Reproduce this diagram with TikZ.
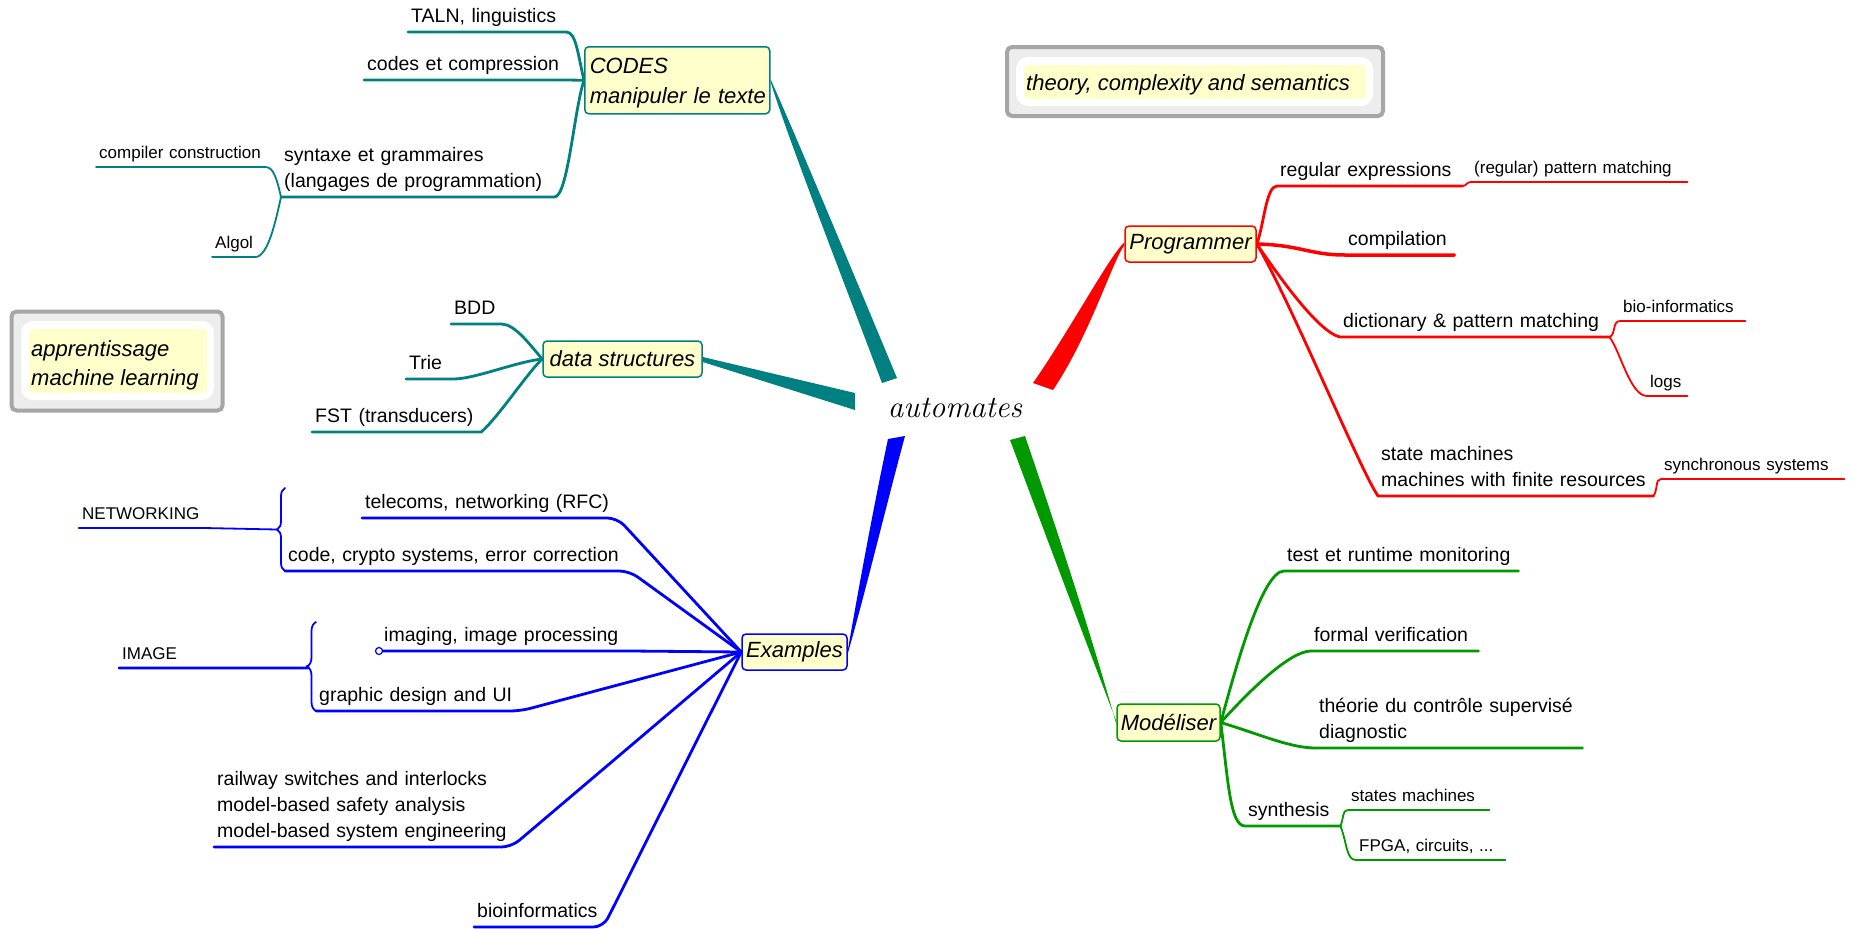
\documentclass[tikz,border=0pt]{standalone}
\usepackage{fontspec}
\setsansfont{Liberation Sans}
\renewcommand{\familydefault}{\sfdefault}
\usetikzlibrary{calc,decorations.pathreplacing,backgrounds}
\definecolor{tealc}{RGB}{0,128,128}
\definecolor{redc}{RGB}{255,0,0}
\definecolor{bluec}{RGB}{0,0,255}
\definecolor{greenc}{RGB}{0,153,0}
\definecolor{boxfill}{RGB}{255,255,204}
\definecolor{notegray}{RGB}{166,166,166}
\definecolor{notebg}{RGB}{237,237,237}
\begin{document}
\begin{tikzpicture}[x=1pt,y=-1pt,
  lvA/.style={anchor=south west, align=left, inner xsep=3pt, inner ysep=1.5pt, font=\fontsize{19.5}{26}\selectfont, execute at end node=\strut},
  lvB/.style={anchor=south west, align=left, inner xsep=3pt, inner ysep=1.5pt, font=\fontsize{17}{22}\selectfont, execute at end node=\strut},
  topic/.style={draw=#1, fill=boxfill, rounded corners=4pt, line width=1.5pt, font=\fontsize{22}{30}\selectfont\itshape, inner sep=0pt},
  brA/.style={draw=#1, line width=2.8pt, line cap=round, line join=round},
  brB/.style={draw=#1, line width=1.8pt, line cap=round, line join=round},
  noteouter/.style={draw=notegray, line width=4pt, fill=notebg, rounded corners=5pt, inner sep=0pt},
  notewhite/.style={fill=white, rounded corners=12pt, inner sep=0pt},
  noteyel/.style={fill=boxfill, rounded corners=3pt, inner sep=0pt},
  notetext/.style={anchor=west, align=left, inner sep=0pt, font=\fontsize{22}{29}\selectfont\itshape},
]
\useasboundingbox (0,0) rectangle (1853,929);

% centre
\node[font=\rmfamily\itshape\fontsize{31}{36}\selectfont, inner sep=0pt] (auto) at (955,408) {automates};

% topic boxes
\node[topic=tealc, anchor=north west, text width=175pt, inner xsep=5pt, minimum height=67pt, align=left] (codes) at (584,46) {\strut\mbox{CODES}\\\mbox{manipuler le texte}};
\node[topic=tealc, minimum width=159pt, minimum height=36pt] (ds) at (622.5,359) {data structures};
\node[topic=bluec, minimum width=105pt, minimum height=36pt] (ex) at (794.5,652) {Examples};
\node[topic=redc, minimum width=131pt, minimum height=36pt] (prog) at (1190.5,244) {Programmer};
\node[topic=greenc, minimum width=103pt, minimum height=37pt] (mod) at (1168.5,722.5) {Modéliser};

% notes
\node[noteouter, minimum width=211pt, minimum height=99pt] (apnote) at (117,361) {};
\node[notewhite, minimum width=193pt, minimum height=79pt] (apwhite) at (117.5,360.5) {};
\node[noteyel, minimum width=178pt, minimum height=64pt] (apyel) at (118,361) {};
\node[notetext] (aptext) at (31,365) {apprentissage\\machine learning};

\node[noteouter, minimum width=376pt, minimum height=69pt] (thnote) at (1195,81.5) {};
\node[notewhite, minimum width=357pt, minimum height=49pt] (thwhite) at (1194.5,81.5) {};
\node[noteyel, minimum width=342pt, minimum height=34pt] (thyel) at (1195,82) {};
\node[notetext] (thtext) at (1026,84.5) {theory, complexity and semantics};

% teal children
\node[lvA, text width=152pt] (taln) at (408,32) {\mbox{TALN, linguistics}};
\node[lvA, text width=194pt] (cec) at (364,80) {\mbox{codes et compression}};
\node[lvA, text width=267pt] (syn) at (281,197) {\mbox{syntaxe et grammaires}\\\mbox{(langages de programmation)}};
\node[lvB, text width=163pt] (cc) at (96,167) {\mbox{compiler construction}};
\node[lvB, text width=37pt] (algol) at (212,257) {\mbox{Algol}};
\node[lvA, text width=44pt] (bdd) at (451,324) {\mbox{BDD}};
\node[lvA, text width=41pt] (trie) at (406,379) {\mbox{Trie}};
\node[lvA, text width=163pt] (fst) at (312,432) {\mbox{FST (transducers)}};

% blue children
\node[lvA, text width=249pt] (tel) at (362,518) {\mbox{telecoms, networking (RFC)}};
\node[lvA, text width=338pt] (code) at (285,571) {\mbox{code, crypto systems, error correction}};
\node[lvA, text width=241pt, inner xsep=5pt] (img) at (379,651) {\mbox{imaging, image processing}};
\node[lvA, text width=198pt] (gd) at (316,711) {\mbox{graphic design and UI}};
\node[lvA, text width=291pt] (rail) at (214,847) {\mbox{railway switches and interlocks}\\\mbox{model-based safety analysis}\\\mbox{model-based system engineering}};
\node[lvA, text width=123pt] (bio) at (474,927) {\mbox{bioinformatics}};
\node[lvB, text width=119pt] (net) at (79,528) {\mbox{NETWORKING}};
\node[lvB, text width=182pt] (image) at (119,668) {\mbox{IMAGE}};

% red children
\node[lvA, text width=179pt] (re) at (1277,186) {\mbox{regular expressions}};
\node[lvB, text width=210pt] (pm) at (1471,182) {\mbox{(regular) pattern matching}};
\node[lvA, text width=103pt] (comp) at (1345,255) {\mbox{compilation}};
\node[lvA, text width=263pt] (dict) at (1340,337) {\mbox{dictionary \& pattern matching}};
\node[lvB, text width=119pt] (bioi) at (1620,321) {\mbox{bio-informatics}};
\node[lvB, text width=34pt] (logs) at (1647,396) {\mbox{logs}};
\node[lvA, text width=269pt] (sm) at (1378,496) {\mbox{state machines}\\\mbox{machines with finite resources}};
\node[lvB, text width=177pt] (sync) at (1661,479) {\mbox{synchronous systems}};

% green children
\node[lvA, text width=228pt] (test) at (1284,571) {\mbox{test et runtime monitoring}};
\node[lvA, text width=161pt] (fv) at (1311,651) {\mbox{formal verification}};
\node[lvA, text width=260pt] (th) at (1316,748) {\mbox{théorie du contrôle supervisé}\\\mbox{diagnostic}};
\node[lvA, text width=89pt] (synth) at (1245,826) {\mbox{synthesis}};
\node[lvB, text width=135pt] (stm) at (1348,810) {\mbox{states machines}};
\node[lvB, text width=143pt] (fpga) at (1356,860) {\mbox{FPGA, circuits, ...}};

\begin{pgfonlayer}{background}
\fill[white] (0,0) rectangle (1853,929);
% wedges from the centre
\coordinate (wC1) at (897,378); \coordinate (wC2) at (882,383);
\fill[tealc] ($(codes.east)+(0,-1.2)$) .. controls (790,122) and (850,265) .. (wC1) -- (wC2) .. controls (840,272) and (785,130) .. ($(codes.east)+(0,1.2)$) -- cycle;
\coordinate (wD1) at (855,393); \coordinate (wD2) at (855,410);
\fill[tealc] ($(ds.east)+(0,-2)$) -- (wD1) -- (wD2) -- ($(ds.east)+(0,3)$) -- cycle;
\coordinate (wP1) at (1033,383); \coordinate (wP2) at (1053,390);
\fill[redc] ($(prog.west)+(0,-1.5)$) .. controls (1110,255) and (1070,330) .. (wP1) -- (wP2) .. controls (1090,335) and (1112,262) .. ($(prog.west)+(0,1.5)$) -- cycle;
\coordinate (wE1) at (888,439); \coordinate (wE2) at (905,436);
\fill[bluec] ($(ex.east)+(0,-1.5)$) .. controls (860,580) and (875,500) .. (wE1) -- (wE2) .. controls (885,510) and (866,590) .. ($(ex.east)+(0,1.5)$) -- cycle;
\coordinate (wM1) at (1010,440); \coordinate (wM2) at (1025,436);
\fill[greenc] ($(mod.west)+(0,-1.5)$) .. controls (1085,640) and (1040,520) .. (wM1) -- (wM2) .. controls (1052,515) and (1090,630) .. ($(mod.west)+(0,1.5)$) -- cycle;

% teal connectors
\draw[brA=tealc] (codes.west) .. controls (578,55) and (576,32) .. (taln.south east) -- (taln.south west);
\draw[brA=tealc] (codes.west) -- (cec.south east) -- (cec.south west);
\draw[brA=tealc] (codes.west) .. controls (574,110) and (568,197) .. (syn.south east) -- (syn.south west);
\draw[brB=tealc] (syn.south west) .. controls (277,180) and (274,167) .. (cc.south east) -- (cc.south west);
\draw[brB=tealc] (syn.south west) .. controls (276,220) and (268,257) .. (algol.south east) -- (algol.south west);
\draw[brA=tealc] (ds.west) .. controls (530,345) and (515,324) .. (bdd.south east) -- (bdd.south west);
\draw[brA=tealc] (ds.west) .. controls (515,362) and (475,379) .. (trie.south east) -- (trie.south west);
\draw[brA=tealc] (ds.west) .. controls (528,372) and (500,415) .. (fst.south east) -- (fst.south west);

% blue connectors
\draw[brA=bluec, rounded corners=10pt] (ex.west) -- (tel.south east) -- (tel.south west);
\draw[brA=bluec, rounded corners=10pt] (ex.west) -- (code.south east) -- (code.south west);
\draw[brA=bluec, rounded corners=10pt] (ex.west) -- (img.south east) -- (img.south west);
\draw[brA=bluec, rounded corners=10pt] (ex.west) -- (gd.south east) -- (gd.south west);
\draw[brA=bluec, rounded corners=10pt] (ex.west) -- (rail.south east) -- (rail.south west);
\draw[brA=bluec, rounded corners=10pt] (ex.west) -- (bio.south east) -- (bio.south west);
\coordinate (nettop) at (285,488);
\draw[brB=bluec, decorate, decoration={brace, amplitude=8pt}] (code.south west) -- (nettop);
\coordinate (nettip) at ($(code.south west)!0.5!(nettop)+(-8,0)$);
\draw[brA=bluec] (net.south west) -- (net.south east);
\draw[brB=bluec] (net.south east) -- (nettip);
\coordinate (imgtop) at (316,622);
\draw[brB=bluec, decorate, decoration={brace, amplitude=9pt}] (gd.south west) -- (imgtop);
\coordinate (imgtip) at ($(gd.south west)!0.5!(imgtop)+(-9,0)$);
\draw[brA=bluec] (image.south west) -- (image.south east) -- (imgtip);

% red connectors
\draw[brA=redc] (prog.east) .. controls (1264,225) and (1266,186) .. (re.south west) -- (re.south east);
\draw[brB=redc] (re.south east) .. controls (1467,186) and (1466,182) .. (pm.south west) -- (pm.south east);
\draw[brA=redc, line width=3.5pt] (prog.east) .. controls (1300,245) and (1310,255) .. (comp.south west) -- (comp.south east);
\draw[brA=redc] (prog.east) .. controls (1278,275) and (1318,332) .. (dict.south west) -- (dict.south east);
\draw[brB=redc] (dict.south east) .. controls (1616,335) and (1612,321) .. (bioi.south west) -- (bioi.south east);
\draw[brB=redc] (dict.south east) .. controls (1620,350) and (1630,396) .. (logs.south west) -- (logs.south east);
\draw[brA=redc] (prog.east) .. controls (1290,300) and (1360,470) .. (sm.south west) -- (sm.south east);
\draw[brB=redc] (sm.south east) .. controls (1658,490) and (1655,479) .. (sync.south west) -- (sync.south east);

% green connectors
\draw[brA=greenc] (mod.east) .. controls (1235,670) and (1262,571) .. (test.south west) -- (test.south east);
\draw[brA=greenc] (mod.east) .. controls (1250,690) and (1290,651) .. (fv.south west) -- (fv.south east);
\draw[brA=greenc] (mod.east) .. controls (1262,735) and (1290,748) .. (th.south west) -- (th.south east);
\draw[brA=greenc] (mod.east) .. controls (1228,780) and (1230,826) .. (synth.south west) -- (synth.south east);
\draw[brB=greenc] (synth.south east) .. controls (1344,818) and (1342,810) .. (stm.south west) -- (stm.south east);
\draw[brB=greenc] (synth.south east) .. controls (1347,842) and (1346,860) .. (fpga.south west) -- (fpga.south east);
\end{pgfonlayer}

\draw[bluec, fill=white, line width=1.2pt] (img.south west) circle[radius=3.5pt];
\end{tikzpicture}
\end{document}
